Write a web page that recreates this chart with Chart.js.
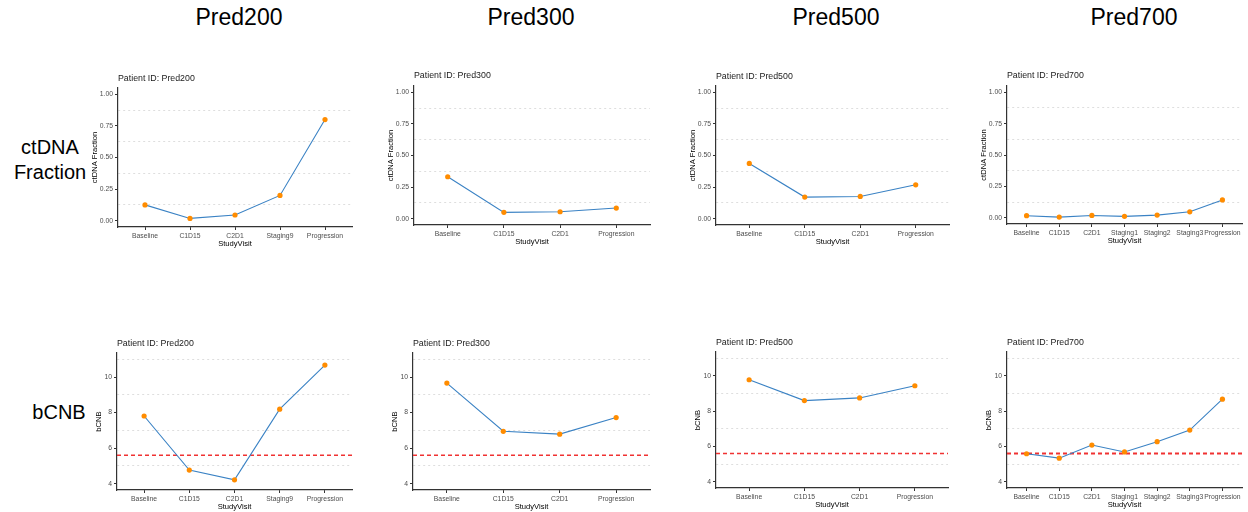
<!DOCTYPE html>
<html>
<head>
<meta charset="utf-8">
<script src="https://cdn.jsdelivr.net/npm/chart.js@4.4.1/dist/chart.umd.min.js"></script>
<style>
  body { margin: 0; background: #fff; width: 1248px; height: 512px; overflow: hidden; position: relative;
         font-family: "Liberation Sans", Arial, sans-serif; }
  .panel { position: absolute; }
  .head { position: absolute; transform: translate(-50%, -50%); font-size: 23px; color: #000; white-space: nowrap; }
  .rowlab { position: absolute; transform: translate(-50%, -50%); font-size: 20px; line-height: 25px; text-align: center; color: #000; white-space: nowrap; }
</style>
</head>
<body>
<div class="head" style="left:239px;top:17px">Pred200</div>
<div class="head" style="left:531px;top:17px">Pred300</div>
<div class="head" style="left:836px;top:17px">Pred500</div>
<div class="head" style="left:1134px;top:17px">Pred700</div>
<div class="rowlab" style="left:50px;top:160px">ctDNA<br>Fraction</div>
<div class="rowlab" style="left:59px;top:412px">bCNB</div>

<script>
// Datos
const patients = ['Pred200', 'Pred300', 'Pred500', 'Pred700'];

const visits200 = ['Baseline', 'C1D15', 'C2D1', 'Staging9', 'Progression'];
const visits300 = ['Baseline', 'C1D15', 'C2D1', 'Progression'];
const visits500 = ['Baseline', 'C1D15', 'C2D1', 'Progression'];
const visits700 = ['Baseline', 'C1D15', 'C2D1', 'Staging1', 'Staging2', 'Staging3', 'Progression'];

const ctdna200 = [0.125, 0.018, 0.045, 0.20, 0.80];
const ctdna300 = [0.332, 0.050, 0.055, 0.084];
const ctdna500 = [0.437, 0.171, 0.176, 0.268];
const ctdna700 = [0.016, 0.005, 0.018, 0.011, 0.021, 0.047, 0.142];

const bcnb200 = [7.81, 4.77, 4.22, 8.19, 10.67];
const bcnb300 = [9.66, 6.95, 6.79, 7.72];
const bcnb500 = [9.78, 8.60, 8.75, 9.44];
const bcnb700 = [5.59, 5.34, 6.08, 5.69, 6.27, 6.93, 8.68];

const bcnbThreshold = 5.6;

// Límites del eje y (antes de la expansión del 5%)
const ctdnaLimits = [0, 1];
const bcnbLimits = [4, 11];

// Colores
const lineBlue = '#3a82c4';
const pointOrange = '#ff8c00';
const axisColor = '#333333';
const tickTextColor = '#4d4d4d';
const gridColor = '#dedede';
const thresholdRed = '#f03232';

Chart.defaults.font.family = '"Liberation Sans", Arial, sans-serif';

// Plugin: título "Patient ID" alineado con el eje y
const panelTitle = {
  id: 'panelTitle',
  afterDraw(chart, args, o) {
    const ctx = chart.ctx;
    ctx.save();
    ctx.font = '8.8px "Liberation Sans", Arial, sans-serif';
    ctx.fillStyle = '#1a1a1a';
    ctx.textBaseline = 'middle';
    ctx.textAlign = 'left';
    ctx.fillText(o.text, chart.chartArea.left, chart.chartArea.top - o.gap);
    ctx.restore();
  }
};

// Plugin: línea horizontal discontinua (umbral)
const hline = {
  id: 'hline',
  beforeDatasetsDraw(chart, args, o) {
    if (o.value == null) return;
    const ctx = chart.ctx;
    const y = chart.scales.y.getPixelForValue(o.value);
    const { left, right } = chart.chartArea;
    ctx.save();
    ctx.strokeStyle = o.color;
    ctx.lineWidth = o.width;
    ctx.setLineDash([4, 3]);
    ctx.beginPath();
    ctx.moveTo(left, y);
    ctx.lineTo(right, y);
    ctx.stroke();
    ctx.restore();
  }
};

function isMajor(v, step) {
  return Math.abs(v / step - Math.round(v / step)) < 1e-6;
}

// Crea un panel; box = posición del área de trazado en la página
function makePanel(box, title, labels, values, kind, threshold, hlineWidth) {
  const padL = 40, padT = 20, padR = 4, xH = 24;
  const w = box.R - box.L + padL + padR;
  const h = box.B - box.T + padT + xH;

  const div = document.createElement('div');
  div.className = 'panel';
  div.style.left = (box.L - padL) + 'px';
  div.style.top = (box.T - padT) + 'px';
  div.style.width = w + 'px';
  div.style.height = h + 'px';
  const canvas = document.createElement('canvas');
  canvas.width = w;
  canvas.height = h;
  canvas.style.width = w + 'px';
  canvas.style.height = h + 'px';
  div.appendChild(canvas);
  document.body.appendChild(div);

  const isCt = kind === 'ctdna';
  const lim = isCt ? ctdnaLimits : bcnbLimits;
  const span = lim[1] - lim[0];
  const majorStep = isCt ? 0.25 : 2;
  const minorStep = isCt ? 0.125 : 1;

  new Chart(canvas, {
    type: 'line',
    data: {
      datasets: [{
        data: values.map((v, i) => ({ x: i, y: v })),
        borderColor: lineBlue,
        borderWidth: 1.1,
        pointBackgroundColor: pointOrange,
        pointBorderColor: pointOrange,
        pointRadius: 2.6,
        pointBorderWidth: 0,
        tension: 0
      }]
    },
    options: {
      responsive: false,
      animation: false,
      layout: { padding: { top: padT, right: padR, left: 0, bottom: 0 } },
      plugins: {
        legend: { display: false },
        tooltip: { enabled: false },
        panelTitle: { text: title, gap: box.gap },
        hline: { value: threshold, color: thresholdRed, width: hlineWidth }
      },
      scales: {
        x: {
          type: 'linear',
          min: -0.6,
          max: labels.length - 0.4,
          grid: { drawOnChartArea: false, tickLength: 3, tickColor: axisColor, tickWidth: 1 },
          border: { color: axisColor, width: 1.2 },
          ticks: {
            stepSize: 1,
            includeBounds: false,
            autoSkip: false,
            maxRotation: 0,
            padding: 2,
            color: tickTextColor,
            font: { size: 6.8 },
            callback: (v) => labels[v]
          },
          title: { display: true, text: 'StudyVisit', color: '#000', font: { size: 7.6 }, padding: { top: 0, bottom: 2.5 } },
          afterFit(s) { s.height = xH; }
        },
        y: {
          min: lim[0] - span * 0.05,
          max: lim[1] + span * 0.05,
          grid: {
            tickLength: 3,
            tickWidth: 1,
            color: (c) => (c.tick && !isMajor(c.tick.value, majorStep)) ? gridColor : 'transparent',
            tickColor: (c) => (c.tick && isMajor(c.tick.value, majorStep)) ? axisColor : 'transparent'
          },
          border: { color: axisColor, width: 1.2, dash: [2, 3] },
          ticks: {
            stepSize: minorStep,
            includeBounds: false,
            padding: 2,
            color: tickTextColor,
            font: { size: 6.8 },
            callback: (v) => isMajor(v, majorStep) ? (isCt ? v.toFixed(2) : String(v)) : ''
          },
          title: {
            display: true,
            text: isCt ? 'ctDNA Fraction' : 'bCNB',
            color: '#000',
            font: { size: 7.6 },
            padding: { top: isCt ? 12.7 : 17.4, bottom: 0 }
          },
          afterFit(s) { s.width = padL; }
        }
      }
    },
    plugins: [panelTitle, hline]
  });
}

// Posiciones de los paneles (área de trazado)
const topBoxes = [
  { L: 118, T: 88, R: 352, B: 227, gap: 9 },
  { L: 414, T: 86, R: 650, B: 225, gap: 10.3 },
  { L: 716, T: 86, R: 949, B: 225, gap: 9.5 },
  { L: 1007, T: 86, R: 1242, B: 224, gap: 10.3 }
];
const bottomBoxes = [
  { L: 117, T: 353, R: 352, B: 490, gap: 9 },
  { L: 413, T: 353, R: 650, B: 490, gap: 9.7 },
  { L: 716, T: 352, R: 948, B: 488, gap: 9 },
  { L: 1007, T: 352, R: 1242, B: 488, gap: 9 }
];

const visitsAll = [visits200, visits300, visits500, visits700];
const ctdnaAll = [ctdna200, ctdna300, ctdna500, ctdna700];
const bcnbAll = [bcnb200, bcnb300, bcnb500, bcnb700];

patients.forEach((p, i) => {
  makePanel(topBoxes[i], 'Patient ID: ' + p, visitsAll[i], ctdnaAll[i], 'ctdna', null, 0);
  makePanel(bottomBoxes[i], 'Patient ID: ' + p, visitsAll[i], bcnbAll[i], 'bcnb', bcnbThreshold, i === 3 ? 2 : 1.5);
});
</script>
</body>
</html>
